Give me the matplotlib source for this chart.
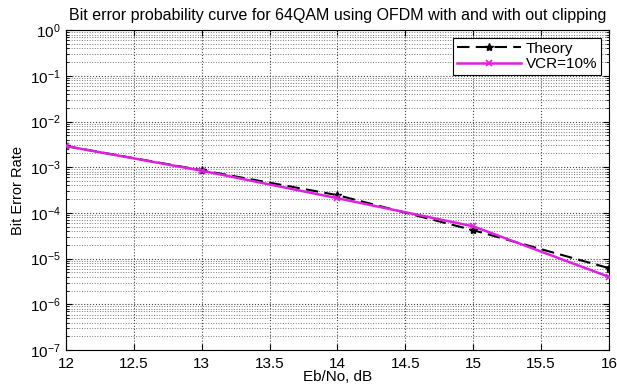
import matplotlib
matplotlib.use("Agg")
import matplotlib.pyplot as plt
from matplotlib.ticker import LogLocator, NullFormatter

plt.rcParams['font.family'] = ['Liberation Sans', 'DejaVu Sans']

# valores
ebno_db = [12, 13, 14, 15, 16]
ber_teoria = [2.9e-3, 8.6e-4, 2.45e-4, 4.2e-5, 6.2e-6]
ber_vcr10 = [2.9e-3, 8.4e-4, 2.1e-4, 5.1e-5, 4.0e-6]

x_ticks = [12, 12.5, 13, 13.5, 14, 14.5, 15, 15.5, 16]
x_tick_labels = ['12', '12.5', '13', '13.5', '14', '14.5', '15', '15.5', '16']

fig = plt.figure(figsize=(6.17, 3.86), dpi=100)
ax = fig.add_axes([0.107, 0.093, 0.88, 0.829])

ax.semilogy(ebno_db, ber_teoria, color='black', linestyle='--', dashes=(6, 3),
            marker='*', markersize=6, linewidth=1.5, label='Theory', zorder=3)
ax.semilogy(ebno_db, ber_vcr10, color='#e020e0', linestyle='-',
            marker='x', markersize=5, markeredgewidth=1.2, linewidth=1.8,
            label='VCR=10%', zorder=4)

ax.set_xlim(12, 16)
ax.set_ylim(1e-7, 1)
ax.set_xticks(x_ticks)
ax.set_xticklabels(x_tick_labels)
ax.yaxis.set_major_locator(LogLocator(base=10, numticks=10))
ax.yaxis.set_minor_locator(LogLocator(base=10, subs=range(2, 10), numticks=20))
ax.yaxis.set_minor_formatter(NullFormatter())

# grade pontilhada estilo matlab
ax.grid(True, which='major', axis='both', linestyle=':', color='#444444', linewidth=0.8)
ax.grid(True, which='minor', axis='y', linestyle=':', color='#777777', linewidth=0.7)

ax.tick_params(which='both', direction='in', top=True, right=True, labelsize=11)
ax.tick_params(which='major', length=4)
ax.tick_params(which='minor', length=2)
ax.tick_params(axis='x', pad=5)
ax.tick_params(axis='y', pad=4)

ax.set_title('Bit error probability curve for 64QAM using OFDM with and with out clipping',
             fontsize=11.5, pad=7)
ax.set_xlabel('Eb/No, dB', fontsize=11, labelpad=-1)
ax.set_ylabel('Bit Error Rate', fontsize=10.5, labelpad=3)

leg = ax.legend(loc='upper right', fontsize=11, fancybox=False, framealpha=1,
                edgecolor='black', borderaxespad=0.5, handlelength=4.2,
                borderpad=0.25, labelspacing=0.1, handletextpad=0.3)
leg.get_frame().set_linewidth(0.8)

fig.savefig('out.png', dpi=100)
